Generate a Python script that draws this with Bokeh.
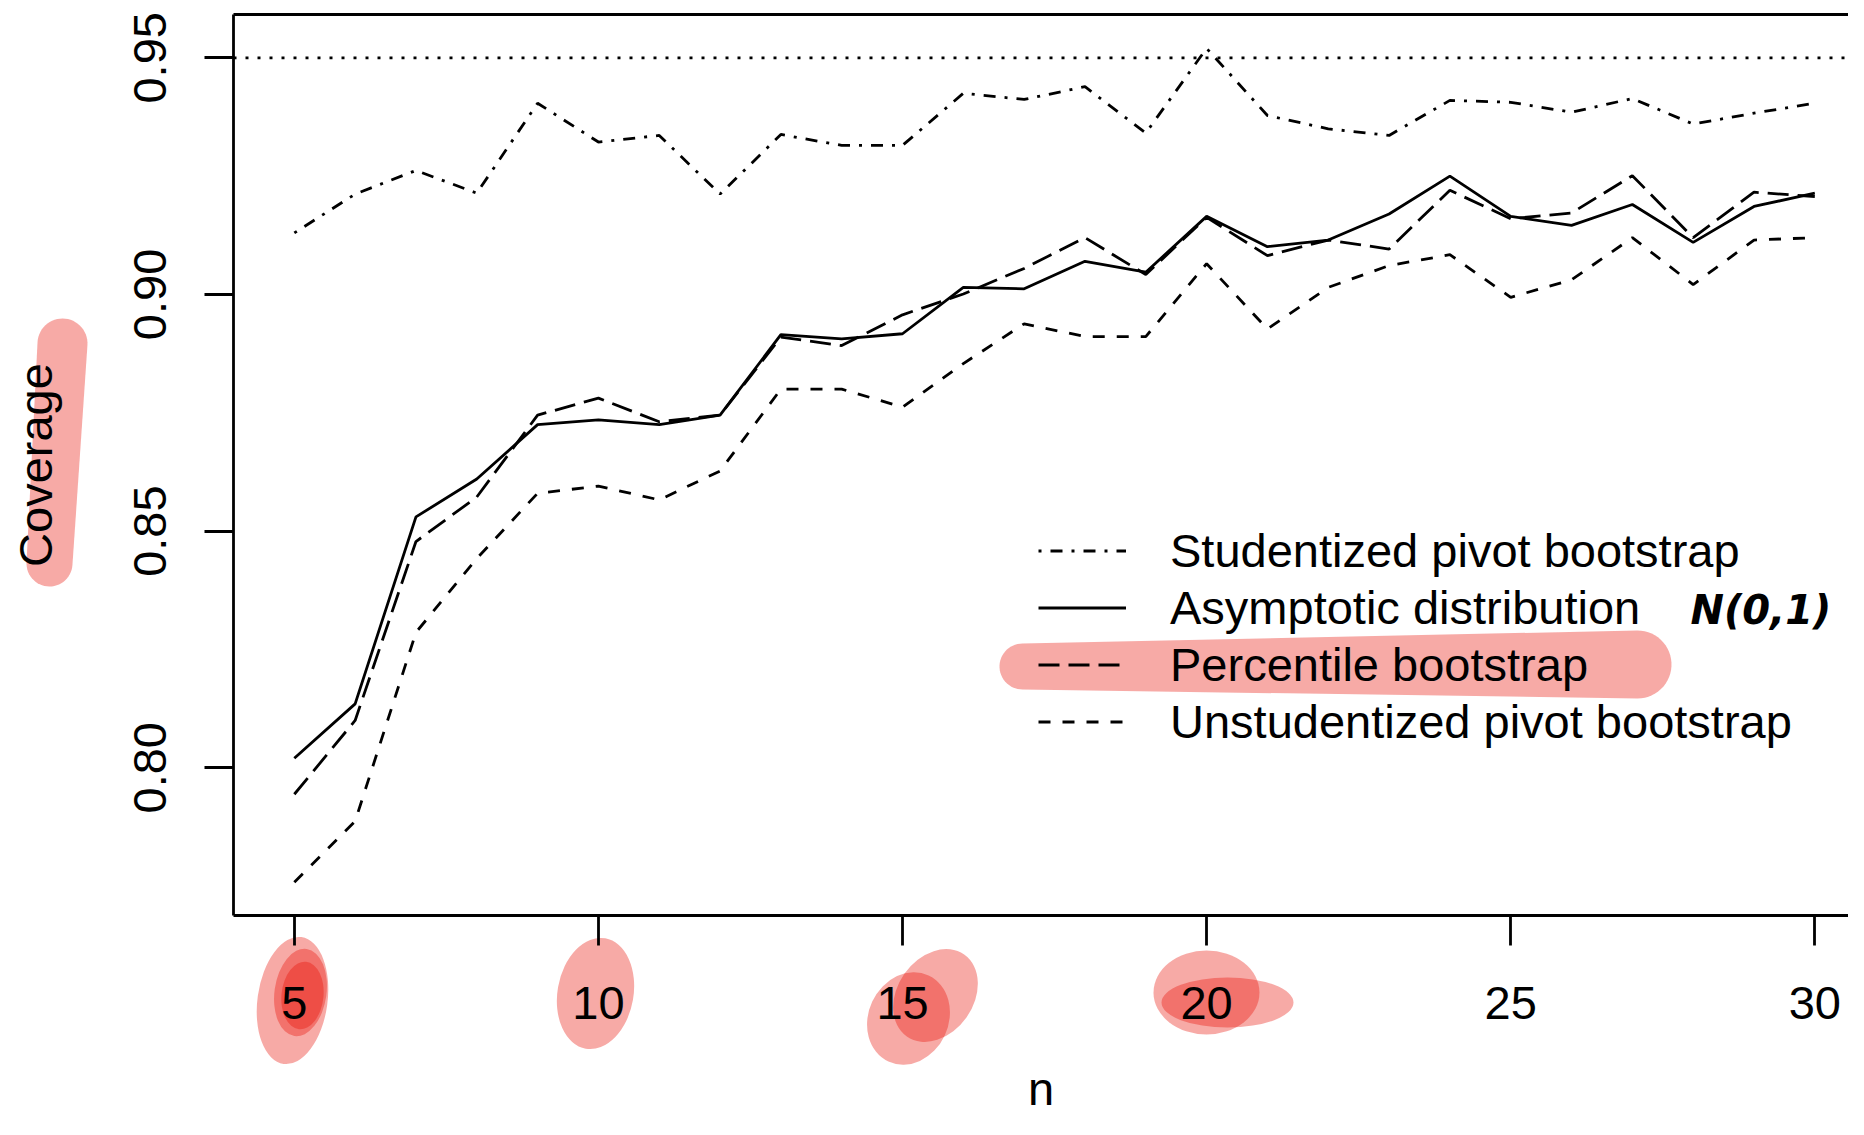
import numpy as np
from bokeh.plotting import figure
from bokeh.models import (Range1d, LinearAxis, FixedTicker, Span, Legend, LegendItem,
                          PolyAnnotation, Label, NumeralTickFormatter)
from bokeh.embed import file_html
from bokeh.resources import INLINE

# ---------------- data ----------------
n = list(range(5, 31))
studentized = [0.9130, 0.9212, 0.9262, 0.9214, 0.9404, 0.9322, 0.9336, 0.9212, 0.9338, 0.9315,
               0.9315, 0.9425, 0.9412, 0.9439, 0.9341, 0.9520, 0.9378, 0.9350, 0.9336, 0.9410,
               0.9406, 0.9385, 0.9414, 0.9360, 0.9383, 0.9404]
asymptotic = [0.8020, 0.8135, 0.8530, 0.8610, 0.8725, 0.8735, 0.8725, 0.8745, 0.8915, 0.8906,
              0.8917, 0.9015, 0.9012, 0.9070, 0.9047, 0.9165, 0.9101, 0.9115, 0.9170, 0.9250,
              0.9165, 0.9146, 0.9190, 0.9110, 0.9186, 0.9214]
percentile = [0.7944, 0.8100, 0.8478, 0.8572, 0.8745, 0.8781, 0.8731, 0.8745, 0.8910, 0.8892,
              0.8957, 0.9001, 0.9055, 0.9120, 0.9042, 0.9163, 0.9082, 0.9115, 0.9096, 0.9220,
              0.9160, 0.9172, 0.9251, 0.9120, 0.9216, 0.9207]
unstudentized = [0.7758, 0.7887, 0.8286, 0.8442, 0.8580, 0.8595, 0.8566, 0.8627, 0.8800, 0.8800,
                 0.8762, 0.8854, 0.8938, 0.8911, 0.8911, 0.9065, 0.8927, 0.9015, 0.9061, 0.9084,
                 0.8994, 0.9031, 0.9120, 0.9021, 0.9115, 0.9120]
series_labels = ["Studentized pivot bootstrap", "Asymptotic distribution",
                 "Percentile bootstrap", "Unstudentized pivot bootstrap"]
x_ticks = [5, 10, 15, 20, 25, 30]
y_ticks = [0.80, 0.85, 0.90, 0.95]
nominal = 0.95
annotation_text = "N(0,1)"

# ---------------- layout ----------------
W, H = 1848, 1119
FRAME_LEFT, FRAME_TOP, FRAME_BOTTOM = 233, 14, 915
BL, BT, BB = FRAME_LEFT, FRAME_TOP, H - FRAME_BOTTOM
X0, PX_PER_X = 4.0, 60.82
Y_TOP, PX_PER_Y = 0.95915, 4733.0
FONT = "Liberation Sans"
FS = "47px"
LW = 2.8

p = figure(width=W, height=H, output_backend="svg", toolbar_location=None,
           x_range=Range1d(X0, X0 + (W - BL) / PX_PER_X),
           y_range=Range1d(Y_TOP - (FRAME_BOTTOM - FRAME_TOP) / PX_PER_Y, Y_TOP),
           min_border_left=BL, min_border_right=0, min_border_top=BT, min_border_bottom=BB,
           x_axis_label="n", y_axis_label="Coverage")
p.grid.visible = False
p.outline_line_color = None
p.background_fill_color = "white"
p.border_fill_color = "white"

for ax in (p.xaxis[0], p.yaxis[0]):
    ax.axis_line_width = LW
    ax.axis_line_color = "black"
    ax.major_tick_line_width = LW
    ax.major_tick_line_color = "black"
    ax.major_tick_in = 0
    ax.minor_tick_line_color = None
    ax.major_label_text_font = FONT
    ax.major_label_text_font_size = FS
    ax.major_label_text_color = "black"
    ax.axis_label_text_font = FONT
    ax.axis_label_text_font_size = FS
    ax.axis_label_text_font_style = "normal"
    ax.axis_label_text_color = "black"

p.xaxis.ticker = FixedTicker(ticks=x_ticks)
p.xaxis.major_tick_out = 30
p.xaxis.major_label_standoff = 41
p.xaxis.axis_label_standoff = 40

p.yaxis.ticker = FixedTicker(ticks=y_ticks)
p.yaxis.formatter = NumeralTickFormatter(format="0.00")
p.yaxis.major_label_orientation = "vertical"
p.yaxis.major_tick_out = 29
p.yaxis.major_label_standoff = 38
p.yaxis.axis_label_standoff = 70

top_axis = LinearAxis(ticker=FixedTicker(ticks=[]), major_tick_out=0, major_tick_in=0,
                      minor_tick_out=0, minor_tick_in=0, major_label_standoff=0,
                      axis_line_width=LW, axis_line_color="black",
                      major_label_text_font_size="0px")
p.add_layout(top_axis, "above")

# ---------------- hand-drawn highlighter marks ----------------
HL = "#E80C00"
HA = 0.35

def to_data(cx, cy):
    """canvas pixel -> data coordinates (marks outside the frame, drawn at guide level)."""
    cx, cy = np.asarray(cx, dtype=float), np.asarray(cy, dtype=float)
    return X0 + (cx - FRAME_LEFT) / PX_PER_X, Y_TOP - (cy - FRAME_TOP) / PX_PER_Y

def capsule_poly(x1, y1, x2, y2, r1, r2, k=30):
    ang = np.arctan2(y2 - y1, x2 - x1)
    t2 = np.linspace(ang - np.pi / 2, ang + np.pi / 2, k)
    t1 = np.linspace(ang + np.pi / 2, ang + 3 * np.pi / 2, k)
    xs = np.concatenate([x2 + r2 * np.cos(t2), x1 + r1 * np.cos(t1)])
    ys = np.concatenate([y2 + r2 * np.sin(t2), y1 + r1 * np.sin(t1)])
    return xs, ys

# marker blobs over the tick labels 5, 10, 15, 20 (canvas px, size px, rotation deg CCW)
hl_cx = [292, 300, 302, 595, 935, 908, 1206, 1227]
hl_cy = [1000, 992, 995, 993, 995, 1018, 992, 1002]
hl_w = [70, 52, 42, 76, 76, 80, 106, 132]
hl_h = [128, 88, 68, 112, 100, 95, 84, 50]
hl_deg = [-8, -8, -6, -10, -35, -25, 0, 0]
bx, by = to_data(hl_cx, hl_cy)
p.ellipse(x=list(bx), y=list(by), width=hl_w, height=hl_h, angle=list(np.radians(hl_deg)),
          width_units="screen", height_units="screen",
          fill_color=HL, fill_alpha=HA, line_color=None, level="guide")

# marker stroke over the y-axis title "Coverage"
cxs, cys = capsule_poly(62, 343, 49, 563, 25, 23)
dx, dy = to_data(cxs, cys)
p.patch(list(dx), list(dy), fill_color=HL, fill_alpha=HA, line_color=None, level="guide")

# marker stroke behind legend entry "Percentile bootstrap"
lxs, lys = capsule_poly(1022, 666, 1637, 664, 23, 34)
p.add_layout(PolyAnnotation(xs=list(lxs - FRAME_LEFT), ys=list(FRAME_BOTTOM - lys),
                            xs_units="screen", ys_units="screen",
                            fill_color=HL, fill_alpha=HA, line_color=None, level="underlay"))

# ---------------- data lines ----------------
p.add_layout(Span(location=nominal, dimension="width", line_dash="3 9",
                  line_width=LW, line_color="black"))
r1 = p.line(n, studentized, line_color="black", line_width=LW, line_dash="3 9 12 9")
r2 = p.line(n, asymptotic, line_color="black", line_width=LW)
r3 = p.line(n, percentile, line_color="black", line_width=LW, line_dash="21 9")
r4 = p.line(n, unstudentized, line_color="black", line_width=LW, line_dash="12 12")

legend = Legend(items=[LegendItem(label=lab, renderers=[r]) for lab, r in
                       zip(series_labels, [r1, r2, r3, r4])],
                location=(805, 165), orientation="vertical",
                glyph_width=88, glyph_height=57, label_height=57, spacing=0,
                padding=0, margin=0, label_standoff=44,
                label_text_font=FONT, label_text_font_size=FS, label_text_color="black",
                border_line_color=None, background_fill_alpha=0)
p.add_layout(legend)

p.add_layout(Label(x=1690 - FRAME_LEFT, y=FRAME_BOTTOM - 609, x_units="screen", y_units="screen",
                   text=annotation_text, text_font="DejaVu Sans", text_font_style="bold italic",
                   text_font_size="40px", text_baseline="middle", text_color="black"))

open("out.html", "w").write(file_html(p, INLINE))
